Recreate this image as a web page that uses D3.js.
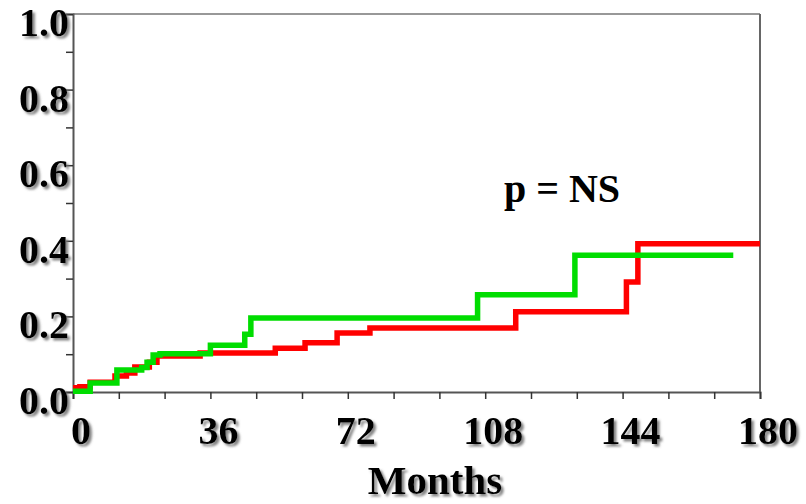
<!DOCTYPE html>
<html>
<head>
<meta charset="utf-8">
<script src="https://cdn.jsdelivr.net/npm/d3@7"></script>
<style>
  html, body { margin: 0; padding: 0; background: #fff; }
  svg { display: block; }
  .lbl { font-family: "Liberation Serif", "Times New Roman", serif; font-weight: bold; fill: #000; }
</style>
</head>
<body>
<svg id="chart" width="806" height="504"></svg>
<script>
// ---- data ----
const redMonths   = [0, 1.8, 4.5, 11, 14, 16.2, 20, 22, 33.3, 53, 60.8, 69.2, 77.8, 116, 145, 148, 180];
const redValues   = [0.011, 0.014, 0.026, 0.042, 0.05, 0.066, 0.079, 0.095, 0.103, 0.116, 0.13, 0.156, 0.169, 0.212, 0.291, 0.392, 0.392];
const greenMonths = [0, 4.5, 11.5, 18, 19.4, 21, 22.8, 36, 45, 46.6, 106, 131.5, 173];
const greenValues = [0.002, 0.024, 0.058, 0.065, 0.079, 0.098, 0.101, 0.124, 0.153, 0.196, 0.257, 0.362, 0.362];
const xTickLabels = [0, 36, 72, 108, 144, 180];
const yTickLabels = [0.0, 0.2, 0.4, 0.6, 0.8, 1.0];
const xLabel = "Months";
const annotation = "p = NS";

(function () {
// ---- layout ----
const svg = d3.select("#chart");
const L = 73, R = 760, T = 14, B = 392;
const x = d3.scaleLinear().domain([0, 180]).range([L, R]);
const y = d3.scaleLinear().domain([0, 1]).range([B, T]);

const defs = svg.append("defs");
const f = defs.append("filter").attr("id", "shadow").attr("x", "-20%").attr("y", "-20%").attr("width", "150%").attr("height", "150%");
f.append("feDropShadow").attr("dx", 2.5).attr("dy", 2.5).attr("stdDeviation", 0.8).attr("flood-color", "#777").attr("flood-opacity", 0.9);

// frame lines
svg.append("line").attr("x1", L).attr("x2", R).attr("y1", T).attr("y2", T).attr("stroke", "#333").attr("stroke-width", 1.2);
svg.append("line").attr("x1", R).attr("x2", R).attr("y1", T).attr("y2", B).attr("stroke", "#666").attr("stroke-width", 2);

// axes
const yAxis = d3.axisLeft(y).tickValues(d3.range(0, 1.0001, 0.1)).tickSize(7).tickFormat("");
const gy = svg.append("g").attr("transform", `translate(${L},0)`).call(yAxis);
const xAxis = d3.axisBottom(x).tickValues(d3.range(0, 181, 12)).tickSize(7).tickFormat("");
const gx = svg.append("g").attr("transform", `translate(0,${B})`).call(xAxis);
[gx, gy].forEach(g => {
  g.select(".domain").attr("stroke", "#555").attr("stroke-width", 2);
  g.selectAll(".tick line").attr("stroke", "#333").attr("stroke-width", 1.5);
});

// lines
const line = d3.line().x(d => x(d[0])).y(d => y(d[1])).curve(d3.curveStepAfter);
svg.append("path").datum(redMonths.map((m, i) => [m, redValues[i]]))
  .attr("d", line).attr("fill", "none").attr("stroke", "#ff0000").attr("stroke-width", 5.5);
svg.append("path").datum(greenMonths.map((m, i) => [m, greenValues[i]]))
  .attr("d", line).attr("fill", "none").attr("stroke", "#00dd00").attr("stroke-width", 5.5);

// tick labels
svg.selectAll(".ylab").data(yTickLabels).enter().append("text")
  .attr("class", "lbl").attr("filter", "url(#shadow)")
  .attr("x", 69).attr("y", d => y(d) + 22)
  .attr("text-anchor", "end").attr("font-size", 40)
  .text(d => d.toFixed(1));
svg.selectAll(".xlab").data(xTickLabels).enter().append("text")
  .attr("class", "lbl").attr("filter", "url(#shadow)")
  .attr("x", d => x(d) + 8).attr("y", B + 52)
  .attr("text-anchor", "middle").attr("font-size", 40)
  .text(d => d);

svg.append("text").attr("class", "lbl").attr("filter", "url(#shadow)")
  .attr("x", 435).attr("y", 494).attr("text-anchor", "middle").attr("font-size", 41)
  .text(xLabel);

svg.append("text").attr("class", "lbl")
  .attr("x", 562).attr("y", 202).attr("text-anchor", "middle").attr("font-size", 40)
  .text(annotation);
})();
</script>
</body>
</html>
